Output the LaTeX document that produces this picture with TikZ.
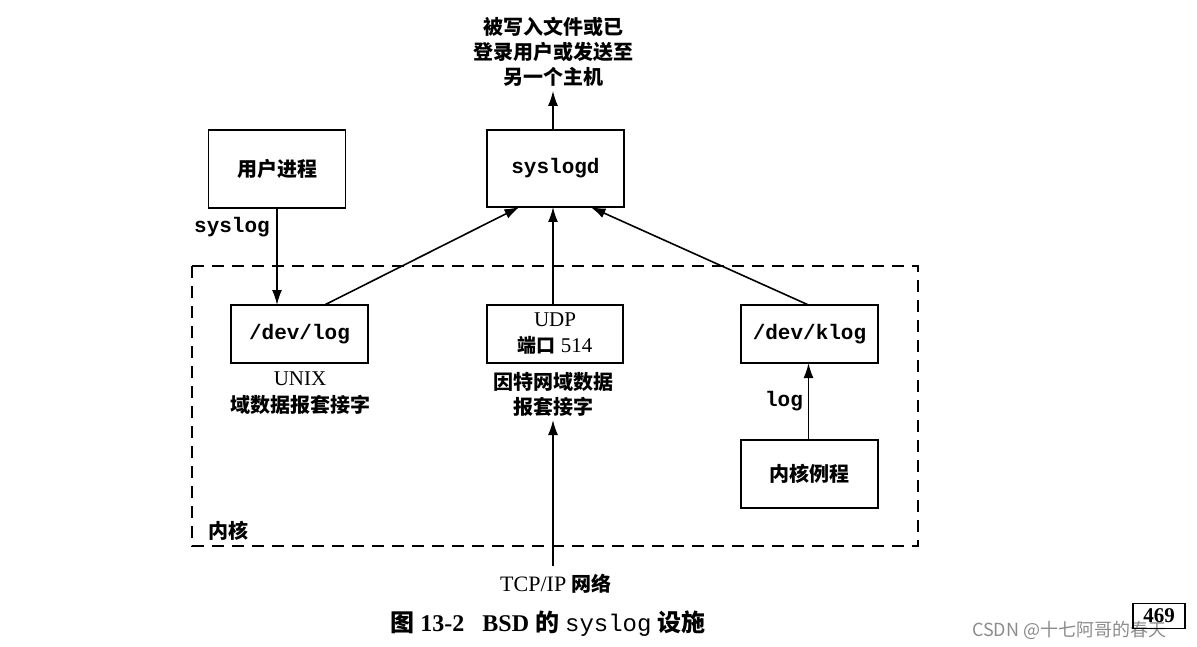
\documentclass[tikz,border=0pt]{standalone}
\usepackage{fontspec}
\setmainfont{Liberation Serif}
\setmonofont{Liberation Mono}
\newfontfamily\cjk{Noto Sans CJK SC}
\usetikzlibrary{arrows.meta,calc}
\begin{document}
\begin{tikzpicture}[x=1pt,y=-1pt,
  box/.style={draw,line width=1.3pt,outer sep=0pt,inner sep=0pt,minimum width=137pt},
  arr/.style={line width=1.6pt,-{Latex[length=15pt,width=10pt]}},
  cjkb/.style={font=\cjk\bfseries\fontsize{20}{25}\selectfont,align=center,inner sep=0pt},
  mono/.style={font=\ttfamily\bfseries\fontsize{21}{24}\selectfont,inner sep=0pt},
  serif/.style={font=\fontsize{21}{25}\selectfont,inner sep=0pt,align=center},
  kernelbox/.style={line width=1.2pt,dash pattern=on 12pt off 8pt}]
\useasboundingbox (0,0) rectangle (1197,647);
\fill[white] (0,0) rectangle (1197,647);

% kernel dashed region
\draw[kernelbox] (192,266) rectangle (918,546);
\node[cjkb,anchor=west] (kernlbl) at (208,531) {内核};

% boxes
\node[box,minimum height=78pt,cjkb] (user) at (277,169) {用户进程};
\node[box,minimum height=77pt,mono] (syslogd) at (555.5,168.5) {syslogd};
\node[box,minimum height=58pt,mono] (devlog) at (299.5,334) {/dev/log};
\node[box,minimum width=136pt,minimum height=58pt,serif] (udp) at (555,334) {UDP\\[1pt]{\cjk\bfseries\fontsize{19}{22}\selectfont 端口} 514};
\node[box,minimum height=58pt,mono] (devklog) at (809.5,334) {/dev/klog};
\node[box,minimum height=68pt,cjkb] (kroutine) at (809.5,474) {内核例程};

% labels
\node[cjkb] (dest) at (553,52) {被写入文件或已\\登录用户或发送至\\另一个主机};
\node[mono] (sysloglbl) at (232,227) {syslog};
\node[serif] (unix) at (300,379) {UNIX};
\node[cjkb] (unixsock) at (300,405) {域数据报套接字};
\node[cjkb] (inetsock) at (553,394) {因特网域数据\\报套接字};
\node[mono] (loglbl) at (784,401) {log};
\node[font=\fontsize{22}{26}\selectfont,inner sep=0pt] (tcpip) at (556,584) {TCP/IP {\cjk\bfseries\fontsize{20}{22}\selectfont 网络}};
\coordinate (netbottom) at (553,566);
\coordinate (netarrow) at (553,420);

% caption
\node[inner sep=0pt,font=\fontsize{24}{28}\selectfont] (caption) at (548,624)
  {{\cjk\bfseries 图} \textbf{13-2}\hspace{18pt}\textbf{BSD} {\cjk\bfseries 的} {\ttfamily syslog} {\cjk\bfseries 设施}};

% watermark and page number
\node[inner sep=0pt,anchor=west,text=black!45,font=\cjk\fontsize{18}{22}\selectfont] (wm) at (972,630) {CSDN @十七阿哥的春天};
\node[draw,line width=1.6pt,inner sep=1pt,minimum width=52pt,minimum height=25pt,font=\bfseries\fontsize{21}{22}\selectfont] (page) at (1159,616) {469};

% connectors
\draw[arr] (syslogd.north -| dest.south) -- ($(dest.south)+(0,4)$);
\draw[arr] (user.south) -- (devlog.north -| user.south);
\draw[arr] ($(devlog.north)+(25,0)$) -- ($(syslogd.south)+(-36,0)$);
\draw[arr] (udp.north -| dest.south) -- (syslogd.south -| dest.south);
\draw[arr] ($(devklog.north)+(-1,0)$) -- ($(syslogd.south)+(35,0)$);
\draw[arr] ($(kroutine.north)+(-1,0)$) -- ($(devklog.south)+(-1,0)$);
\draw[arr] (netbottom) -- (netarrow);
\end{tikzpicture}
\end{document}
